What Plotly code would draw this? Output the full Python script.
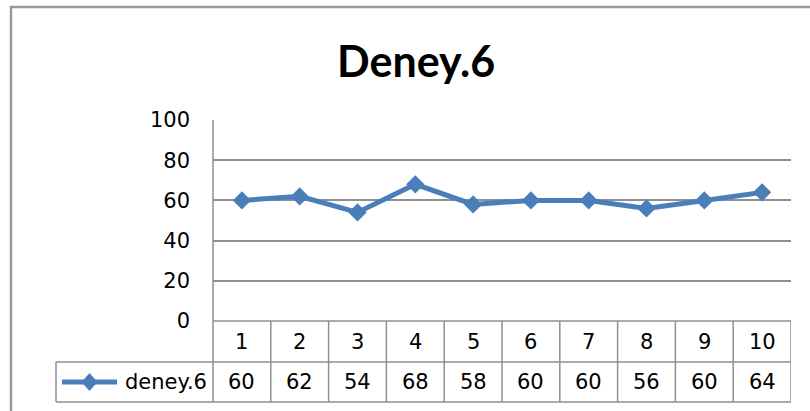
import plotly.graph_objects as go

# Series data
categories = [1, 2, 3, 4, 5, 6, 7, 8, 9, 10]
values = [60, 62, 54, 68, 58, 60, 60, 56, 60, 64]
series_name = "deney.6"
chart_title = "Deney.6"
y_ticks = [0, 20, 40, 60, 80, 100]

W, H = 810, 411
TITLE_FONT = "Lato"
FONT = "DejaVu Sans"
BLUE = "#4a7ebb"
GRID = "#8f8f8f"


def px(x):
    return x / W


def py(y):
    return 1 - y / H


# plot area in pixels
PL, PR, PT, PB = 213, 791, 120, 321
ROW1_BOT, ROW2_BOT = 362, 402
LEG_LEFT = 56

fig = go.Figure()
fig.add_trace(go.Scatter(
    x=categories, y=values, mode="lines+markers", name=series_name,
    line=dict(color=BLUE, width=5),
    marker=dict(symbol="diamond", size=14, color=BLUE),
    showlegend=False, cliponaxis=False,
))

shapes = []
# outer chart border (extends past the right/bottom edge)
shapes.append(dict(type="rect", xref="paper", yref="paper",
                   x0=px(11), x1=px(830), y0=py(7), y1=py(430),
                   line=dict(color="#9a9a9a", width=2.5), layer="below"))
# value-axis line
shapes.append(dict(type="line", xref="paper", yref="paper",
                   x0=px(PL), x1=px(PL), y0=py(PT), y1=py(ROW2_BOT),
                   line=dict(color=GRID, width=1.5)))
# table horizontal rules
for yy, x0 in [(PB, PL), (ROW1_BOT, LEG_LEFT), (ROW2_BOT, LEG_LEFT)]:
    shapes.append(dict(type="line", xref="paper", yref="paper",
                       x0=px(x0), x1=px(PR), y0=py(yy), y1=py(yy),
                       line=dict(color=GRID, width=1.5)))
# table column separators
for c in categories:
    shapes.append(dict(type="line", xref="x", yref="paper",
                       x0=c + 0.5, x1=c + 0.5, y0=py(PB), y1=py(ROW2_BOT),
                       line=dict(color=GRID, width=1.5)))
shapes.append(dict(type="line", xref="paper", yref="paper",
                   x0=px(LEG_LEFT), x1=px(LEG_LEFT), y0=py(ROW1_BOT), y1=py(ROW2_BOT),
                   line=dict(color=GRID, width=1.5)))
# legend key: line with diamond
ky = (ROW1_BOT + ROW2_BOT) / 2
shapes.append(dict(type="line", xref="paper", yref="paper",
                   x0=px(62), x1=px(117), y0=py(ky), y1=py(ky),
                   line=dict(color=BLUE, width=5)))
cx, rx, ry = 89.5, 8, 9
shapes.append(dict(type="path", xref="paper", yref="paper",
                   path=f"M {px(cx - rx)} {py(ky)} L {px(cx)} {py(ky - ry)} "
                        f"L {px(cx + rx)} {py(ky)} L {px(cx)} {py(ky + ry)} Z",
                   fillcolor=BLUE, line=dict(width=0)))

annotations = []
mid1 = (PB + ROW1_BOT) / 2
mid2 = (ROW1_BOT + ROW2_BOT) / 2
cell_font = dict(family=FONT, size=21, color="#000")
for c, v in zip(categories, values):
    annotations.append(dict(x=c, xref="x", y=py(mid1), yref="paper",
                            text=str(c), showarrow=False, yanchor="middle",
                            font=cell_font))
    annotations.append(dict(x=c, xref="x", y=py(mid2), yref="paper",
                            text=str(v), showarrow=False, yanchor="middle",
                            font=cell_font))
annotations.append(dict(x=px(209), xref="paper", y=py(mid2), yref="paper",
                        text=series_name, showarrow=False, xanchor="right",
                        yanchor="middle", font=cell_font))
annotations.append(dict(x=px(416), xref="paper", y=py(60), yref="paper",
                        text=f"<b>{chart_title}</b>", showarrow=False,
                        xanchor="center", yanchor="middle",
                        font=dict(family=TITLE_FONT, size=43, color="#000")))

fig.update_layout(
    width=W, height=H,
    margin=dict(l=0, r=0, t=0, b=0, autoexpand=False),
    paper_bgcolor="white", plot_bgcolor="white",
    shapes=shapes, annotations=annotations,
    xaxis=dict(domain=[px(PL), px(PR)], range=[0.5, 10.5], automargin=False,
               showticklabels=False, showgrid=False, zeroline=False,
               showline=False, fixedrange=True),
    yaxis=dict(domain=[py(PB), py(PT)], range=[0, 100], automargin=False,
               tickvals=y_ticks, showgrid=True, gridcolor=GRID, gridwidth=1.5,
               zeroline=False, showline=False, ticklabelstandoff=22,
               tickfont=dict(family=FONT, size=21, color="#000")),
)

fig.write_html("out.html")
